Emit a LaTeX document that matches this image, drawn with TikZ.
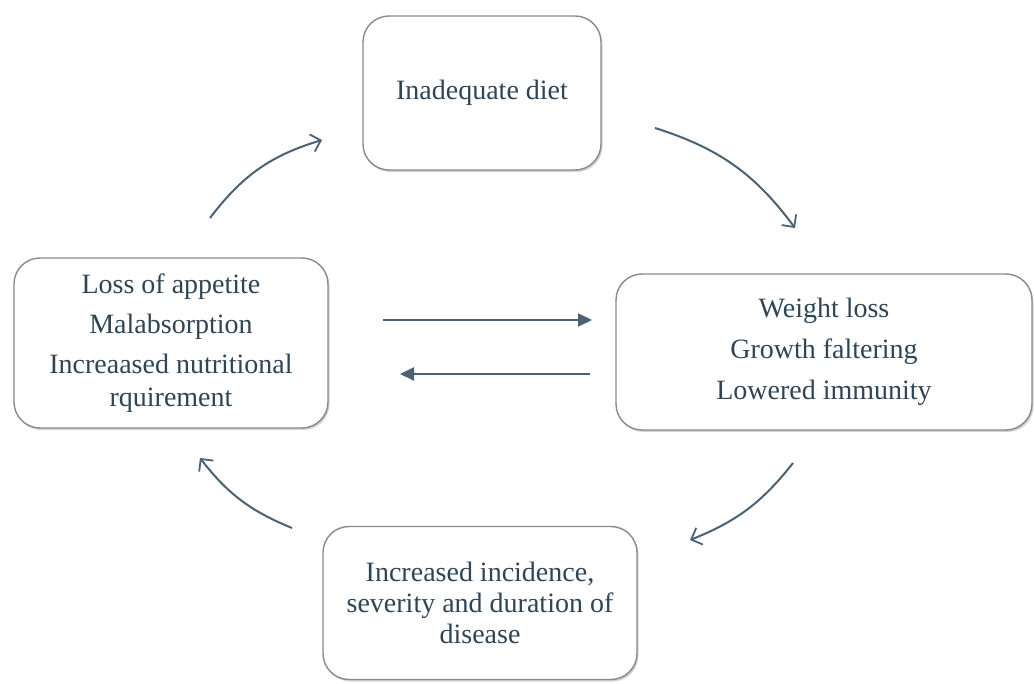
\documentclass[tikz,border=0pt]{standalone}
\usepackage{fontspec}
\setmainfont{Liberation Serif}
\usetikzlibrary{arrows.meta,shadows}
\definecolor{txt}{HTML}{2F4556}
\definecolor{arr}{HTML}{4B6274}
\definecolor{edge}{HTML}{8A8A8A}
\tikzset{
  box/.style={draw=edge, line width=1.4pt, fill=white, rounded corners=26pt,
    align=center, text=txt, font=\fontsize{28}{33}\selectfont,
    drop shadow={shadow xshift=1.5pt, shadow yshift=-2pt, fill=black!35, opacity=0.5}},
  curvearr/.style={draw=arr, line width=2pt, -{Straight Barb[length=9pt,width=18pt,line width=1.8pt]}},
  flatarr/.style={draw=arr, line width=2pt, -{Triangle[length=14pt,width=13pt]}}
}
\begin{document}
\begin{tikzpicture}[x=1pt,y=1pt]
\useasboundingbox[fill=white] (0,0) rectangle (1034,-684);
\node[box, minimum width=238pt, minimum height=154pt] (diet) at (482,-93) {Inadequate diet};
\node[box, minimum width=314pt, minimum height=170pt] (loss) at (171,-343)
  {Loss of appetite\\[7pt]Malabsorption\\[7pt]Increaased nutritional\\rquirement};
\node[box, minimum width=416pt, minimum height=156pt] (weight) at (824,-352)
  {Weight loss\\[8pt]Growth faltering\\[8pt]Lowered immunity};
\node[box, minimum width=314pt, minimum height=153pt, font=\fontsize{28}{31}\selectfont] (disease) at (480,-603)
  {Increased incidence,\\severity and duration of\\disease};

\coordinate (a1s) at (210,-218); \coordinate (a1e) at (322,-140);
\coordinate (a2s) at (655,-128); \coordinate (a2e) at (795,-228);
\coordinate (a3s) at (793,-463); \coordinate (a3e) at (690,-540);
\coordinate (a4s) at (292,-528); \coordinate (a4e) at (200,-458);
\coordinate (h1s) at (383,-320); \coordinate (h1e) at (592,-320);
\coordinate (h2s) at (590,-374); \coordinate (h2e) at (400,-374);

\draw[curvearr] (a1s) to[bend left=18] (a1e);
\draw[curvearr] (a2s) to[bend left=18] (a2e);
\draw[curvearr] (a3s) to[bend left=15] (a3e);
\draw[curvearr] (a4s) to[bend left=15] (a4e);
\draw[flatarr] (h1s) -- (h1e);
\draw[flatarr] (h2s) -- (h2e);
\end{tikzpicture}
\end{document}
